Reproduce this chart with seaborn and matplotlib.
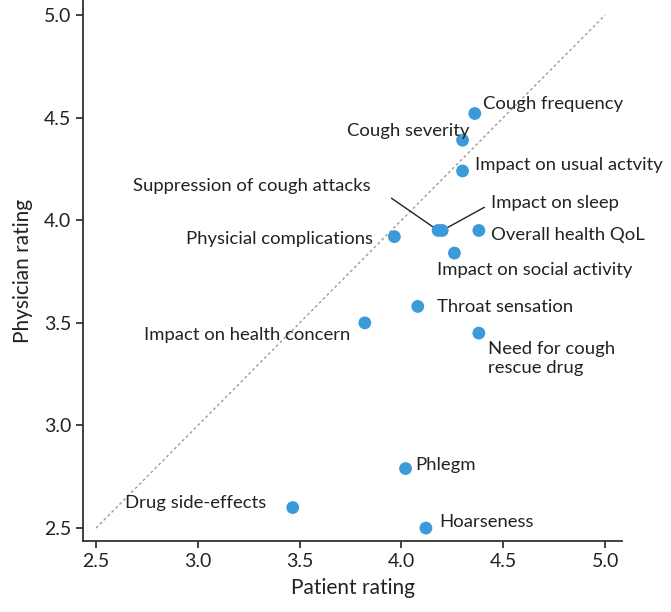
import matplotlib
matplotlib.use("Agg")
import matplotlib.pyplot as plt
import seaborn as sns
import pandas as pd

items = ["Cough frequency", "Cough severity", "Impact on usual actvity",
         "Suppression of cough attacks", "Impact on sleep", "Overall health QoL",
         "Physicial complications", "Impact on social activity", "Throat sensation",
         "Impact on health concern", "Need for cough rescue drug", "Phlegm",
         "Drug side-effects", "Hoarseness"]
patient = [4.36, 4.30, 4.30, 4.18, 4.20, 4.38, 3.965, 4.26, 4.08, 3.82, 4.38, 4.02, 3.466, 4.12]
physician = [4.52, 4.39, 4.24, 3.95, 3.95, 3.95, 3.92, 3.84, 3.58, 3.50, 3.45, 2.79, 2.60, 2.50]
label_text = ["Cough frequency", "Cough severity", "Impact on usual actvity",
              "Suppression of cough attacks", "Impact on sleep", "Overall health QoL",
              "Physicial complications", "Impact on social activity", "Throat sensation",
              "Impact on health concern", "Need for cough\nrescue drug", "Phlegm",
              "Drug side-effects", "Hoarseness"]
xticks = [2.5, 3.0, 3.5, 4.0, 4.5, 5.0]
yticks = [2.5, 3.0, 3.5, 4.0, 4.5, 5.0]

# label placement (layout only)
label_pos = [(4.40, 4.566, "left"), (4.333, 4.434, "right"), (4.363, 4.268, "left"),
             (3.267, 4.166, "center"), (4.441, 4.083, "left"), (4.441, 3.93, "left"),
             (3.858, 3.907, "right"), (4.172, 3.756, "left"), (4.172, 3.576, "left"),
             (3.75, 3.44, "right"), (4.426, 3.327, "left"), (4.069, 2.805, "left"),
             (3.338, 2.62, "right"), (4.186, 2.532, "left")]
leaders = {3: (3.951, 4.107), 4: (4.407, 4.063)}

df = pd.DataFrame({"item": items, "Patient rating": patient, "Physician rating": physician})

sns.set_style("ticks")
plt.rcParams['font.family'] = ['Lato', 'DejaVu Sans']

fig = plt.figure(figsize=(6.71, 6.12), dpi=100)
ax = fig.add_axes([0.1237, 0.116, 0.8033, 0.884])

ax.plot([2.5, 5.0], [2.5, 5.0], linestyle=(0, (2, 2)), color="#9a9a9a", linewidth=1.0, zorder=1)

for i, (lx, ly) in leaders.items():
    ax.plot([lx, patient[i]], [ly, physician[i]], color="#222222", linewidth=1.0, zorder=2)

sns.scatterplot(data=df, x="Patient rating", y="Physician rating", ax=ax,
                color="#3b9ad9", s=85, edgecolor="none", zorder=3)

for i, txt in enumerate(label_text):
    tx, ty, ha = label_pos[i]
    ax.text(tx, ty, txt, ha=ha, va="center", fontsize=13.3, color="#222222",
            linespacing=1.2)

ax.set_xlim(2.436, 5.083)
ax.set_ylim(2.437, 5.073)
ax.set_xticks(xticks)
ax.set_yticks(yticks)
ax.set_xticklabels([f"{t:.1f}" for t in xticks])
ax.set_yticklabels([f"{t:.1f}" for t in yticks])
ax.tick_params(labelsize=14, colors="#222222", length=5, width=1.2)
ax.set_xlabel("Patient rating", fontsize=15, color="#222222", labelpad=6)
ax.set_ylabel("Physician rating", fontsize=15, color="#222222", labelpad=8)
for s in ["top", "right"]:
    ax.spines[s].set_visible(False)
for s in ["left", "bottom"]:
    ax.spines[s].set_color("#333333")
    ax.spines[s].set_linewidth(1.3)

fig.savefig("out.png", dpi=100)
